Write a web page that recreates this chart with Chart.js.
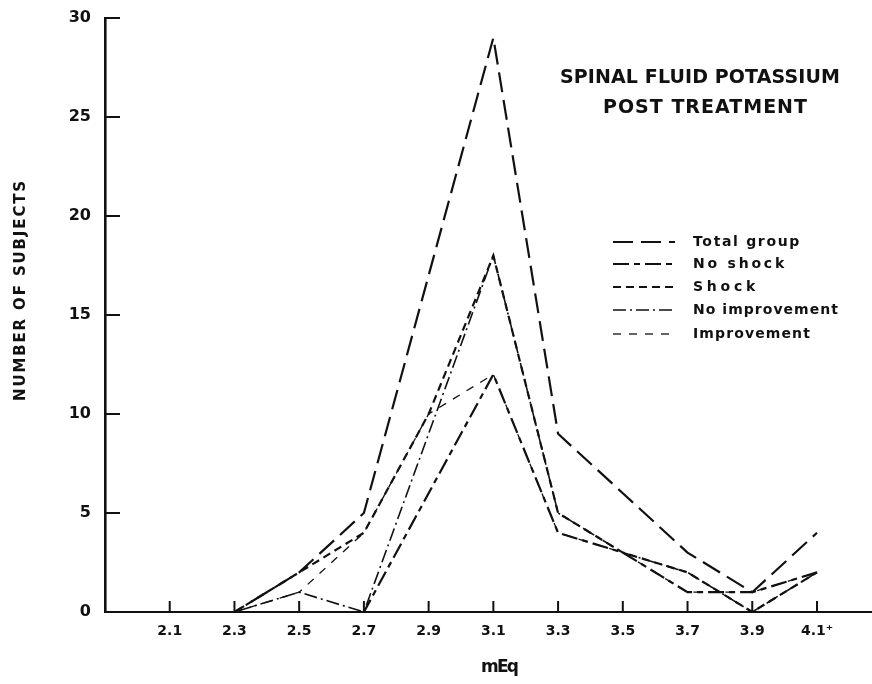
<!DOCTYPE html>
<html>
<head>
<meta charset="utf-8">
<script src="https://cdn.jsdelivr.net/npm/chart.js@4/dist/chart.umd.min.js"></script>
<style>
  html, body { margin: 0; padding: 0; background: #fff; }
  #wrap { width: 872px; height: 684px; }
</style>
</head>
<body>
<div id="wrap"><canvas id="potChart" width="872" height="684"></canvas></div>
<script>
// mEq categories (x positions) and their printed labels
var mEq = [2.1, 2.3, 2.5, 2.7, 2.9, 3.1, 3.3, 3.5, 3.7, 3.9, 4.1];
var mEqLabels = ['2.1', '2.3', '2.5', '2.7', '2.9', '3.1', '3.3', '3.5', '3.7', '3.9', '4.1\u207A'];
var yTicks = [0, 5, 10, 15, 20, 25, 30];

// number of subjects
var totalGroup    = [0, 0, 2, 5, 17, 29, 9, 6, 3, 1, 4];
var noShock       = [0, 0, 0, 0, 6, 12, 4, 3, 1, 1, 2];
var shock         = [0, 0, 2, 4, 10, 18, 5, 3, 2, 0, 2];
var noImprovement = [0, 0, 1, 0, 9, 18, 5, 3, 2, 0, 2];
var improvement   = [0, 0, 1, 4, 10, 12, 4, 3, 1, 1, 2];

function pts(vals) {
    return vals.map(function(v, i) { return { x: mEq[i], y: v }; });
}

var FONT = '"DejaVu Sans", "Liberation Sans", sans-serif';

// draws text stretched to a given width with letter spacing
function spaced(ctx, text, x, y, width, size, align, weight) {
    ctx.font = (weight || 'bold') + ' ' + size + 'px ' + FONT;
    ctx.letterSpacing = '0px';
    var w = ctx.measureText(text).width;
    var ls = (width - w) / text.length;
    ctx.letterSpacing = ls + 'px';
    ctx.textBaseline = 'middle';
    ctx.textAlign = 'left';
    var startX = align === 'center' ? x - width / 2 : x;
    ctx.fillText(text, startX, y);
    ctx.letterSpacing = '0px';
}

var decorations = {
    id: 'decorations',
    afterDraw: function(chart) {
        var ctx = chart.ctx;
        var area = chart.chartArea;
        var xs = chart.scales.x, ys = chart.scales.y;
        ctx.save();
        ctx.strokeStyle = '#111';
        ctx.fillStyle = '#111';
        ctx.lineWidth = 2;
        ctx.setLineDash([]);
        // inward tick marks
        yTicks.forEach(function(v) {
            if (v === 0) return;
            var py = ys.getPixelForValue(v);
            ctx.beginPath();
            ctx.moveTo(area.left, py);
            ctx.lineTo(area.left + 15, py);
            ctx.stroke();
        });
        mEq.forEach(function(v) {
            var px = xs.getPixelForValue(v);
            ctx.beginPath();
            ctx.moveTo(px, area.bottom);
            ctx.lineTo(px, area.bottom - 11);
            ctx.stroke();
        });

        // title
        spaced(ctx, 'SPINAL FLUID POTASSIUM', 560, 78, 280, 19);
        spaced(ctx, 'POST TREATMENT', 603, 108, 205, 19);

        // axis titles
        spaced(ctx, 'mEq', 481, 668, 36, 17, null, '600');
        ctx.save();
        ctx.translate(21, 290);
        ctx.rotate(-Math.PI / 2);
        spaced(ctx, 'NUMBER OF SUBJECTS', 0, 0, 222, 15, 'center');
        ctx.restore();

        // legend
        var rowY = [242, 264, 287, 310, 334];
        var textW = [108, 94, 66, 146, 118];
        chart.data.datasets.forEach(function(ds, i) {
            ctx.save();
            ctx.lineWidth = ds.borderWidth;
            ctx.setLineDash(ds.borderDash);
            ctx.beginPath();
            ctx.moveTo(613, rowY[i]);
            ctx.lineTo(675, rowY[i]);
            ctx.stroke();
            ctx.restore();
            spaced(ctx, ds.label, 693, rowY[i], textW[i], 14);
        });
        ctx.restore();
    }
};

function lineSet(label, data, dash, width) {
    return {
        label: label,
        data: pts(data),
        borderColor: '#111',
        borderWidth: width,
        borderDash: dash,
        pointRadius: 0,
        tension: 0,
        fill: false
    };
}

var ctx = document.getElementById('potChart').getContext('2d');
var chart = new Chart(ctx, {
    type: 'line',
    data: {
        datasets: [
            lineSet('Total group', totalGroup, [20, 8], 2.2),
            lineSet('No shock', noShock, [16, 5, 6, 5], 2.2),
            lineSet('Shock', shock, [8, 5], 2.2),
            lineSet('No improvement', noImprovement, [13, 4, 2, 4], 1.6),
            lineSet('Improvement', improvement, [8, 8], 1.3)
        ]
    },
    options: {
        responsive: false,
        animation: false,
        layout: { padding: { top: 18, right: 0, left: 0, bottom: 0 } },
        plugins: {
            legend: { display: false },
            tooltip: { enabled: false }
        },
        scales: {
            x: {
                type: 'linear',
                min: 1.9,
                max: 4.27,
                afterBuildTicks: function(scale) {
                    scale.ticks = mEq.map(function(v) { return { value: v }; });
                },
                afterFit: function(scale) {
                    scale.height = 72;
                    scale.paddingLeft = 0;
                    scale.paddingRight = 0;
                },
                grid: { display: false, drawTicks: false },
                border: { display: true, color: '#111', width: 2 },
                ticks: {
                    padding: 11,
                    color: '#111',
                    maxRotation: 0,
                    autoSkip: false,
                    font: { family: FONT, size: 14, weight: 'bold' },
                    callback: function(v) {
                        var i = mEq.indexOf(Math.round(v * 10) / 10);
                        return i >= 0 ? mEqLabels[i] : '';
                    }
                }
            },
            y: {
                min: 0,
                max: 30,
                afterBuildTicks: function(scale) {
                    scale.ticks = yTicks.map(function(v) { return { value: v }; });
                },
                afterFit: function(scale) {
                    scale.width = 105;
                    scale.paddingTop = 0;
                    scale.paddingBottom = 0;
                },
                grid: { display: false, drawTicks: false },
                border: { display: true, color: '#111', width: 2.6 },
                ticks: {
                    padding: 14,
                    color: '#111',
                    font: { family: FONT, size: 16, weight: 'bold' }
                }
            }
        }
    },
    plugins: [decorations]
});
</script>
</body>
</html>
